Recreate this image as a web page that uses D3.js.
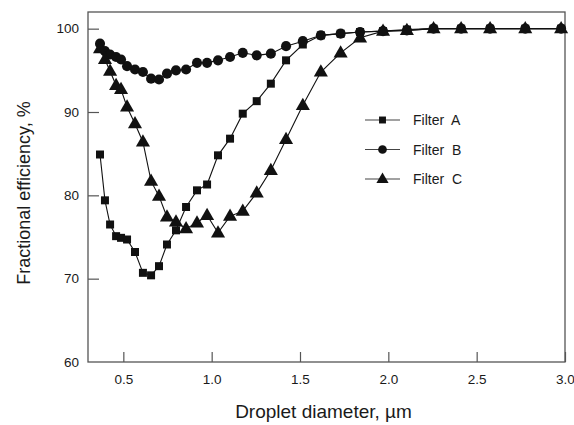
<!DOCTYPE html>
<html>
<head>
<meta charset="utf-8">
<script src="https://cdn.jsdelivr.net/npm/d3@7/dist/d3.min.js"></script>
<style>
  html, body { margin: 0; padding: 0; background: #fff; }
  svg { display: block; font-family: "Liberation Sans", Arial, sans-serif; }
</style>
</head>
<body>
<svg id="chart" width="574" height="425"></svg>
<script>
// Droplet diameters (µm) shared by all three filters
const diameter = [0.368, 0.396, 0.425, 0.459, 0.487, 0.521, 0.566, 0.611, 0.657, 0.702,
                  0.747, 0.798, 0.855, 0.917, 0.974, 1.036, 1.104, 1.176, 1.255, 1.335,
                  1.421, 1.516, 1.618, 1.730, 1.840, 1.970, 2.105, 2.256, 2.412, 2.576,
                  2.775, 2.978];

// Fractional efficiency (%) per filter
const filterA = [84.9, 79.4, 76.5, 75.1, 74.9, 74.7, 73.2, 70.7, 70.4, 71.5,
                 74.1, 75.8, 78.6, 80.6, 81.3, 84.8, 86.8, 89.8, 91.3, 93.4,
                 96.2, 98.1, 99.2, 99.4, 99.6, 99.7, 99.9, 100, 100, 100,
                 100, 100];
const filterB = [98.2, 97.3, 96.9, 96.6, 96.3, 95.5, 95.1, 94.8, 94.0, 93.9,
                 94.6, 95.0, 95.1, 95.9, 95.9, 96.2, 96.6, 97.1, 96.8, 97.0,
                 97.9, 98.5, 99.2, 99.4, 99.6, 99.7, 99.8, 100, 100, 100,
                 100, 100];
const filterC = [97.6, 96.3, 94.9, 93.2, 92.7, 90.6, 88.6, 86.4, 81.7, 79.9,
                 77.4, 76.8, 76.0, 76.7, 77.6, 75.5, 77.5, 78.1, 80.3, 83.0,
                 86.7, 90.8, 94.8, 97.1, 98.9, 99.7, 99.8, 100, 100, 100,
                 100, 100];

const seriesNames = ["Filter  A", "Filter  B", "Filter  C"];
const seriesSymbols = [d3.symbolSquare, d3.symbolCircle, d3.symbolTriangle];
const seriesSizes = [64, 80, 86];

const xTicks = [0.5, 1.0, 1.5, 2.0, 2.5, 3.0];
const yTicks = [60, 70, 80, 90, 100];

const xTitle = "Droplet diameter, µm";
const yTitle = "Fractional efficiency, %";

const svg = d3.select("#chart");
const margin = { left: 88, right: 9, top: 12, bottom: 63 };
const W = 574, H = 425;
const pw = W - margin.left - margin.right;
const ph = H - margin.top - margin.bottom;

const x = d3.scaleLinear().domain([0.3, 3.0]).range([margin.left, margin.left + pw]);
const y = d3.scaleLinear().domain([60, 102]).range([margin.top + ph, margin.top]);

const frameColor = "#555";
const ink = "#111";
const textColor = "#1a1a1a";

// plot frame
svg.append("rect")
  .attr("x", margin.left).attr("y", margin.top)
  .attr("width", pw).attr("height", ph)
  .attr("fill", "none").attr("stroke", frameColor).attr("stroke-width", 1.3);

// x axis with inward ticks
const gx = svg.append("g")
  .attr("transform", `translate(0,${margin.top + ph})`)
  .call(d3.axisBottom(x).tickValues(xTicks).tickFormat(d3.format(".1f"))
        .tickSize(-10).tickPadding(12));
gx.select(".domain").remove();
gx.selectAll(".tick line").attr("stroke", frameColor).attr("stroke-width", 1.2);
gx.selectAll(".tick text").attr("fill", textColor).attr("font-size", 13.5)
  .attr("font-family", "Liberation Sans, Arial, sans-serif");

// y axis with inward ticks
const gy = svg.append("g")
  .attr("transform", `translate(${margin.left},0)`)
  .call(d3.axisLeft(y).tickValues(yTicks).tickFormat(d3.format("d"))
        .tickSize(-11).tickPadding(9));
gy.select(".domain").remove();
gy.selectAll(".tick line").attr("stroke", frameColor).attr("stroke-width", 1.2)
  .filter(d => d === 60).remove();
gy.selectAll(".tick text").attr("fill", textColor).attr("font-size", 13.5)
  .attr("font-family", "Liberation Sans, Arial, sans-serif");

// axis titles
svg.append("text")
  .attr("x", margin.left + pw / 2 - 3).attr("y", 418)
  .attr("text-anchor", "middle").attr("font-size", 19).attr("fill", textColor)
  .text(xTitle);
svg.append("text")
  .attr("transform", `translate(30,${margin.top + ph / 2 + 6}) rotate(-90)`)
  .attr("text-anchor", "middle").attr("font-size", 18).attr("fill", textColor)
  .text(yTitle);

// series
const allSeries = [filterA, filterB, filterC];
const line = d3.line().x(d => x(d[0])).y(d => y(d[1]));

allSeries.forEach((vals, i) => {
  const pts = diameter.map((d, k) => [d, vals[k]]);
  const g = svg.append("g");
  g.append("path").datum(pts)
    .attr("d", line).attr("fill", "none")
    .attr("stroke", ink).attr("stroke-width", 1.1);
  const sym = d3.symbol().type(seriesSymbols[i]).size(seriesSizes[i]);
  g.selectAll("path.pt").data(pts).join("path")
    .attr("class", "pt")
    .attr("transform", d => `translate(${x(d[0])},${y(d[1]) + (i === 2 ? 0.5 : 0)})`)
    .attr("d", sym).attr("fill", ink);
});

// legend
const legX = 365, legY0 = 120, legDy = 29.5;
seriesNames.forEach((name, i) => {
  const gy0 = legY0 + i * legDy;
  const g = svg.append("g");
  g.append("line").attr("x1", legX).attr("x2", legX + 35)
    .attr("y1", gy0).attr("y2", gy0)
    .attr("stroke", "#444").attr("stroke-width", 1.2);
  g.append("path")
    .attr("transform", `translate(${legX + 17.5},${gy0 + (i === 2 ? 0.5 : 0)})`)
    .attr("d", d3.symbol().type(seriesSymbols[i]).size(seriesSizes[i] * 0.75))
    .attr("fill", ink);
  g.append("text")
    .attr("x", legX + 48).attr("y", gy0 + 5)
    .attr("font-size", 14).attr("fill", textColor)
    .style("white-space", "pre")
    .text(name);
});
</script>
</body>
</html>
